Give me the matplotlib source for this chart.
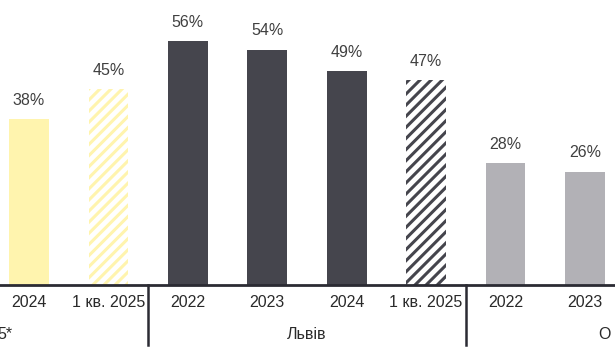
import matplotlib.pyplot as plt

plt.rcParams['font.family'] = ['Liberation Sans', 'DejaVu Sans']
plt.rcParams['hatch.linewidth'] = 2.2

# Дані з графіка
periods = ['2024', '1 кв. 2025', '2022', '2023', '2024', '1 кв. 2025', '2022', '2023']
values = [38, 45, 56, 54, 49, 47, 28, 26]
group_names = ['5*', 'Львів', 'О']
group_pos = [-0.3, 3.5, 7.25]
separators = [1.5, 5.5]

yellow = '#FFF4AE'
dark = '#45454D'
grey = '#B2B1B6'
colors = [yellow, yellow, dark, dark, dark, dark, grey, grey]
hatched = [False, True, False, False, False, True, False, False]

fig = plt.figure(figsize=(6.15, 3.57), dpi=100)
ax = fig.add_axes([0, 0.2017, 1, 0.7983])

x = list(range(len(values)))
for i, v in enumerate(values):
    if hatched[i]:
        ax.bar(x[i], v, width=0.5, color='white', edgecolor=colors[i],
               hatch='///', linewidth=0)
    else:
        ax.bar(x[i], v, width=0.5, color=colors[i], linewidth=0)
    ax.annotate(f'{v}%', (x[i], v), xytext=(0, 13.5), textcoords='offset points',
                ha='center', va='center', fontsize=11.5, color='#404040')
    # підписи періодів
    ax.annotate(periods[i], (x[i], 0), xytext=(0, -12.5), textcoords='offset points',
                ha='center', va='center', fontsize=11.5, color='#2a2a2a',
                annotation_clip=False)

for gx, name in zip(group_pos, group_names):
    ax.annotate(name, (gx, 0), xytext=(0, -36), textcoords='offset points',
                ha='center', va='center', fontsize=11.5, color='#2a2a2a',
                annotation_clip=False)

ax.axhline(0, color='#2b2b33', linewidth=2, clip_on=False)
for sx in separators:
    ax.plot([sx, sx], [0, -13.8], color='#2b2b33', linewidth=1.8, clip_on=False)

ax.set_xlim(-0.365, 7.378)
ax.set_ylim(0, 65.4)
ax.axis('off')

fig.savefig('out.png', dpi=100)
